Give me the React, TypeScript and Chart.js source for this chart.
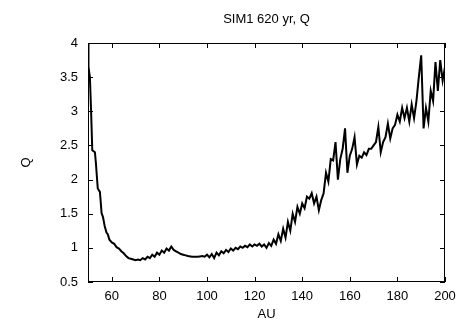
import React, { useEffect, useRef } from "react";
import { Chart, registerables } from "chart.js";

Chart.register(...registerables);

const titleText = "SIM1 620 yr, Q";
const xLabel = "AU";
const yLabel = "Q";
const xTicks = [60, 80, 100, 120, 140, 160, 180, 200];
const yTicks = [0.5, 1, 1.5, 2, 2.5, 3, 3.5, 4];

const au = [
  50, 50.2, 50.8, 51.3, 51.8, 52.9, 53.3, 54.1, 55, 55.4, 55.7, 56.3, 57, 57.8, 58.3, 59,
  60, 61, 62, 63, 64, 65, 66, 67, 68, 69, 70, 71, 72, 73, 74, 75, 76, 77, 78, 79,
  80, 81, 82, 83, 84, 85, 86, 87, 88, 89, 90, 91, 92, 93, 94, 95, 96, 97, 98, 99,
  100, 101, 102, 103, 104, 105, 106, 107, 108, 109, 110, 111, 112, 113, 114, 115, 116, 117, 118, 119,
  120, 121, 122, 123, 124, 125, 126, 127, 128, 129, 130, 131, 132, 133, 134, 135, 136, 137, 138, 139,
  140, 141, 142, 143, 144, 145, 146, 147, 148, 149, 150, 151, 152, 153, 154, 155, 156, 157, 158, 159,
  160, 161, 162, 163, 164, 165, 166, 167, 168, 169, 170, 171, 172, 173, 174, 175, 176, 177, 178, 179,
  180, 181, 182, 183, 184, 185, 186, 187, 188, 189, 190, 191, 192, 193, 194, 195, 196, 197, 198, 199, 200,
];

const q = [
  4.0, 3.65, 3.5, 3.0, 2.43, 2.4, 2.25, 1.87, 1.82, 1.65, 1.51, 1.45, 1.32, 1.22, 1.2, 1.12,
  1.08, 1.06, 1.01, 0.99, 0.95, 0.92, 0.88, 0.85, 0.84, 0.83, 0.82, 0.83, 0.82, 0.85, 0.83, 0.87, 0.85, 0.9, 0.87, 0.93,
  0.9, 0.96, 0.93, 0.99, 0.96, 1.02, 0.97, 0.95, 0.93, 0.91, 0.9, 0.89, 0.88, 0.875, 0.87, 0.87, 0.87, 0.875, 0.88, 0.87,
  0.9, 0.86, 0.91, 0.85, 0.93, 0.89, 0.95, 0.92, 0.97, 0.94, 0.99, 0.96, 1.0, 0.98, 1.02, 1.0, 1.03, 1.01, 1.05, 1.02,
  1.05, 1.03, 1.06, 1.02, 1.05, 1.0, 1.07, 1.03, 1.12, 1.06, 1.2, 1.1, 1.28, 1.15, 1.38, 1.25, 1.5, 1.38, 1.6, 1.5,
  1.65, 1.58, 1.75, 1.72, 1.8, 1.65, 1.75, 1.55, 1.7, 1.8, 2.1, 1.97, 2.3, 2.28, 2.55, 2.0, 2.3, 2.45, 2.75, 2.1,
  2.35, 2.45, 2.62, 2.22, 2.35, 2.32, 2.4, 2.36, 2.45, 2.45, 2.5, 2.55, 2.77, 2.4, 2.55, 2.62, 2.82, 2.6, 2.75, 2.8,
  2.95, 2.85, 3.05, 2.9, 3.05, 2.85, 3.1, 2.9, 3.15, 3.5, 3.82, 2.75, 3.05, 2.85, 3.3, 3.15, 3.72, 3.3, 3.75, 3.45, 3.65,
];

const framePlugin = {
  id: "frameTicks",
  afterDatasetsDraw(chart: any) {
    const { ctx, chartArea, scales } = chart;
    const { left, right, top, bottom } = chartArea;
    const x = scales.x;
    const y = scales.y;
    ctx.save();
    ctx.strokeStyle = "#000";
    ctx.lineWidth = 1;
    ctx.beginPath();
    for (const v of xTicks) {
      const px = Math.round(x.getPixelForValue(v)) + 0.5;
      ctx.moveTo(px, bottom);
      ctx.lineTo(px, bottom - 5);
      ctx.moveTo(px, top);
      ctx.lineTo(px, top + 5);
    }
    for (const v of yTicks) {
      const py = Math.round(y.getPixelForValue(v)) + 0.5;
      ctx.moveTo(left, py);
      ctx.lineTo(left + 5, py);
      ctx.moveTo(right, py);
      ctx.lineTo(right - 5, py);
    }
    ctx.stroke();
    ctx.strokeRect(Math.round(left) + 0.5, Math.round(top) + 0.5, Math.round(right - left) - 1, Math.round(bottom - top) - 1);
    ctx.restore();
  },
};

export default function App() {
  const ref = useRef<HTMLCanvasElement | null>(null);
  useEffect(() => {
    document.body.style.margin = "0";
    Chart.defaults.font.family = "'Liberation Sans', Arial, sans-serif";
    Chart.defaults.font.size = 13;
    Chart.defaults.color = "#000";
    const data = au.map((a, i) => ({ x: a, y: q[i] }));
    const chart = new Chart(ref.current as HTMLCanvasElement, {
      type: "line",
      data: {
        datasets: [
          {
            data,
            borderColor: "#000",
            borderWidth: 2,
            pointRadius: 0,
            tension: 0,
            fill: false,
          },
        ],
      },
      options: {
        animation: false,
        responsive: true,
        maintainAspectRatio: false,
        layout: { padding: { left: 0, right: 22, top: 0, bottom: 0 } },
        plugins: {
          legend: { display: false },
          tooltip: { enabled: false },
          title: {
            display: true,
            text: titleText,
            fullSize: false,
            color: "#000",
            font: { size: 13, weight: "normal" },
            padding: { top: 12, bottom: 15.4 },
          },
        },
        scales: {
          x: {
            type: "linear",
            min: 50,
            max: 200,
            grid: { display: false, drawTicks: false },
            border: { display: false },
            afterBuildTicks: (s: any) => {
              s.ticks = xTicks.map((v) => ({ value: v }));
            },
            afterFit: (s: any) => {
              s.height = 45;
            },
            ticks: { padding: 7, maxRotation: 0, autoSkip: false, color: "#000", callback: (v: any) => String(v) },
            title: { display: true, text: xLabel, color: "#000", font: { size: 13 }, padding: { top: 0, bottom: 5 } },
          },
          y: {
            type: "linear",
            min: 0.5,
            max: 4,
            grid: { display: false, drawTicks: false },
            border: { display: false },
            afterBuildTicks: (s: any) => {
              s.ticks = yTicks.map((v) => ({ value: v }));
            },
            afterFit: (s: any) => {
              s.width = 88;
            },
            ticks: { padding: 10, autoSkip: false, color: "#000", callback: (v: any) => String(v) },
            title: { display: true, text: yLabel, color: "#000", font: { size: 13 }, padding: { top: 19, bottom: 0 } },
          },
        },
      },
      plugins: [framePlugin],
    });
    return () => chart.destroy();
  }, []);
  return (
    <div style={{ position: "relative", width: "467px", height: "327px" }}>
      <canvas ref={ref} />
    </div>
  );
}
